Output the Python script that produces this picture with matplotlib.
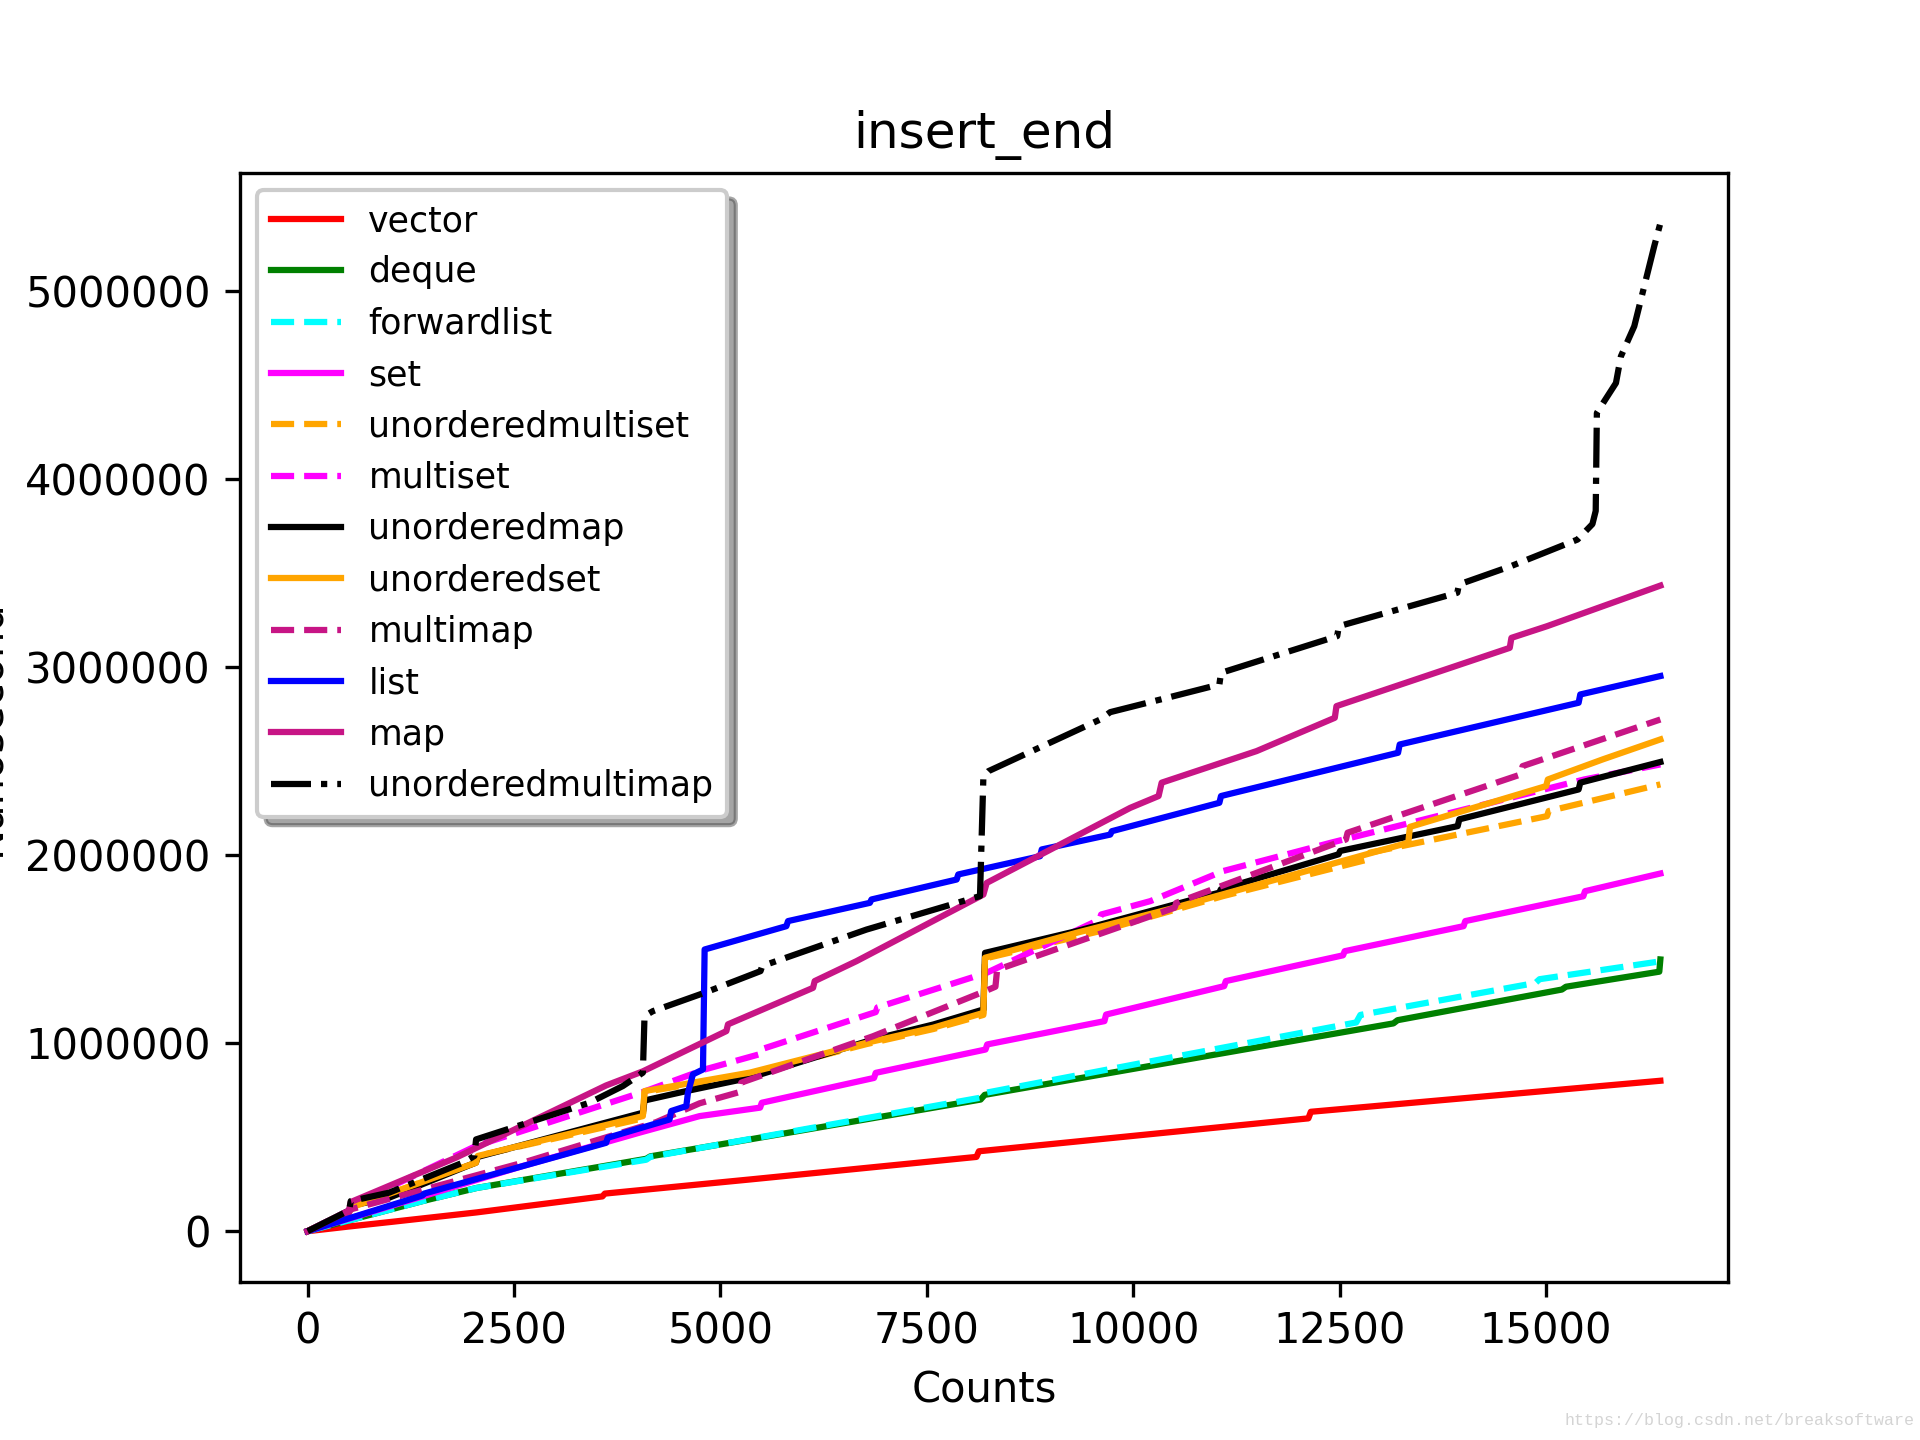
import matplotlib
matplotlib.use('Agg')
import matplotlib.pyplot as plt

# datos (Counts, Nanosecond)
vector_x = [0, 500, 1024, 2048, 3570, 3600, 5354, 8100, 8130, 12120, 12150, 16383]
vector_y = [0, 25000, 50000, 100000, 185000, 200000, 275000, 395000, 425000, 600000, 635000, 800000]

deque_x = [0, 1391, 2048, 4100, 4150, 5354, 8150, 8200, 13150, 13200, 15190, 15240, 16370, 16383]
deque_y = [0, 160000, 230000, 385000, 398000, 488000, 700000, 725000, 1105000, 1122000, 1285000, 1300000, 1380000, 1445000]

forwardlist_x = [0, 1391, 2048, 4100, 4150, 5354, 8150, 8200, 10326, 12700, 12750, 14870, 14920, 16383]
forwardlist_y = [0, 160000, 230000, 380000, 395000, 490000, 710000, 735000, 913000, 1110000, 1150000, 1320000, 1340000, 1435000]

set_x = [0, 2600, 4019, 4747, 5480, 5500, 6860, 6880, 8210, 8230, 9650, 9670, 11100, 11120,
         12540, 12560, 14000, 14020, 15450, 15470, 16383]
set_y = [0, 346000, 524000, 612000, 657000, 683000, 815000, 842000, 966000, 993000, 1117000, 1152000,
         1303000, 1330000, 1467000, 1489000, 1622000, 1649000, 1781000, 1808000, 1902000]

umultiset_x = [0, 502, 520, 2038, 2060, 4060, 4080, 5354, 6769, 7577, 8184, 8204, 9599, 11087,
               12846, 12866, 15010, 15030, 16383]
umultiset_y = [0, 100000, 125000, 364000, 400000, 600000, 740000, 835000, 995000, 1075000, 1150000,
               1450000, 1596000, 1782000, 1977000, 2013000, 2207000, 2234000, 2376000]

multiset_x = [0, 502, 520, 2038, 4060, 4808, 5465, 5485, 6880, 6900, 8224, 9590, 9610, 10205,
              11087, 12395, 15460, 16383]
multiset_y = [0, 110000, 134000, 453000, 740000, 860000, 940000, 966000, 1165000, 1190000, 1374000,
              1657000, 1684000, 1755000, 1915000, 2066000, 2402000, 2482000]

umap_x = [0, 502, 520, 987, 2038, 2060, 4060, 4080, 4586, 5354, 6849, 7577, 8184, 8204, 9315, 10726,
          11040, 11060, 12485, 12505, 13928, 13948, 15393, 15413, 16383]
umap_y = [0, 110000, 135000, 178000, 365000, 395000, 630000, 695000, 745000, 816000, 1020000, 1099000,
          1179000, 1480000, 1596000, 1764000, 1800000, 1818000, 2004000, 2022000, 2154000, 2190000,
          2349000, 2385000, 2495000]

uset_x = [0, 502, 520, 2038, 2060, 4060, 4080, 5354, 6769, 7577, 8184, 8204, 9315, 10501, 13330,
          13350, 15000, 15020, 15686, 16383]
uset_y = [0, 100000, 125000, 364000, 400000, 612000, 745000, 843000, 1002000, 1082000, 1161000,
          1454000, 1587000, 1720000, 2066000, 2150000, 2367000, 2402000, 2509000, 2615000]

multimap_x = [0, 502, 520, 2604, 4222, 4747, 5232, 5252, 6849, 8224, 8330, 8350, 10326, 10500,
              10520, 12575, 12595, 14694, 14714, 16383]
multimap_y = [0, 100000, 116000, 364000, 580000, 680000, 740000, 790000, 1037000, 1280000, 1300000,
              1390000, 1693000, 1720000, 1746000, 2083000, 2119000, 2429000, 2473000, 2721000]

list_x = [0, 1391, 1411, 2604, 3615, 3635, 4383, 4403, 4586, 4606, 4666, 4788, 4808, 5798, 5818,
          6809, 6829, 7860, 7880, 8871, 8891, 9720, 9740, 11042, 11062, 13206, 13226, 15393, 15413, 16383]
list_y = [0, 190000, 200000, 346000, 470000, 497000, 594000, 639000, 665000, 736000, 834000, 860000,
          1498000, 1622000, 1649000, 1746000, 1764000, 1870000, 1897000, 1994000, 2030000, 2109000,
          2127000, 2278000, 2314000, 2544000, 2588000, 2810000, 2854000, 2952000]

map_x = [0, 502, 522, 1796, 3615, 4060, 5071, 5091, 6121, 6141, 6647, 8184, 8224, 9962, 10306,
         10343, 11493, 12440, 12460, 14559, 14579, 15010, 16383]
map_y = [0, 110000, 155000, 391000, 775000, 850000, 1064000, 1100000, 1294000, 1330000, 1436000,
         1790000, 1852000, 2251000, 2314000, 2385000, 2553000, 2730000, 2792000, 3102000, 3155000,
         3217000, 3433000]

umultimap_x = [0, 502, 522, 987, 1877, 2020, 2040, 3413, 3818, 4060, 4080, 4181, 4808, 5485, 5505,
               6769, 8143, 8184, 8244, 9599, 9720, 10326, 11042, 11062, 12469, 12489, 13924, 13944,
               14571, 15380, 15560, 15600, 15614, 15703, 15845, 15905, 16067, 16310, 16383]
umultimap_y = [0, 110000, 160000, 205000, 364000, 400000, 488000, 683000, 772000, 843000, 1144000,
               1170000, 1268000, 1383000, 1410000, 1604000, 1782000, 2419000, 2446000, 2721000,
               2760000, 2827000, 2907000, 2969000, 3164000, 3217000, 3395000, 3439000, 3536000,
               3678000, 3760000, 3830000, 4351000, 4413000, 4510000, 4652000, 4812000, 5240000, 5360000]


figure = plt.figure(figsize=(6.4, 4.8), dpi=300)
axes = figure.add_subplot()

axes.plot(vector_x, vector_y, color='red', linestyle='-', label='vector')
axes.plot(deque_x, deque_y, color='green', linestyle='-', label='deque')
axes.plot(forwardlist_x, forwardlist_y, color='cyan', linestyle='--', label='forwardlist')
axes.plot(set_x, set_y, color='magenta', linestyle='-', label='set')
axes.plot(umultiset_x, umultiset_y, color='orange', linestyle='--', label='unorderedmultiset')
axes.plot(multiset_x, multiset_y, color='magenta', linestyle='--', label='multiset')
axes.plot(umap_x, umap_y, color='black', linestyle='-', label='unorderedmap')
axes.plot(uset_x, uset_y, color='orange', linestyle='-', label='unorderedset')
axes.plot(multimap_x, multimap_y, color='mediumvioletred', linestyle='--', label='multimap')
axes.plot(list_x, list_y, color='blue', linestyle='-', label='list')
axes.plot(map_x, map_y, color='mediumvioletred', linestyle='-', label='map')
axes.plot(umultimap_x, umultimap_y, color='black', linestyle='-.', label='unorderedmultimap')

axes.set_title('insert_end', fontsize=12)
axes.set_xlabel('Counts')
axes.set_ylabel('Nanosecond')
axes.ticklabel_format(style='plain', axis='y', useOffset=False)

axes.legend(loc='upper left', shadow=True, fancybox=True, fontsize='small')

figure.text(0.997, 0.008, 'https://blog.csdn.net/breaksoftware', ha='right', va='bottom',
            fontsize=4, color='#d4d4d4', family='Liberation Mono')

figure.savefig('out.png', dpi=300)
